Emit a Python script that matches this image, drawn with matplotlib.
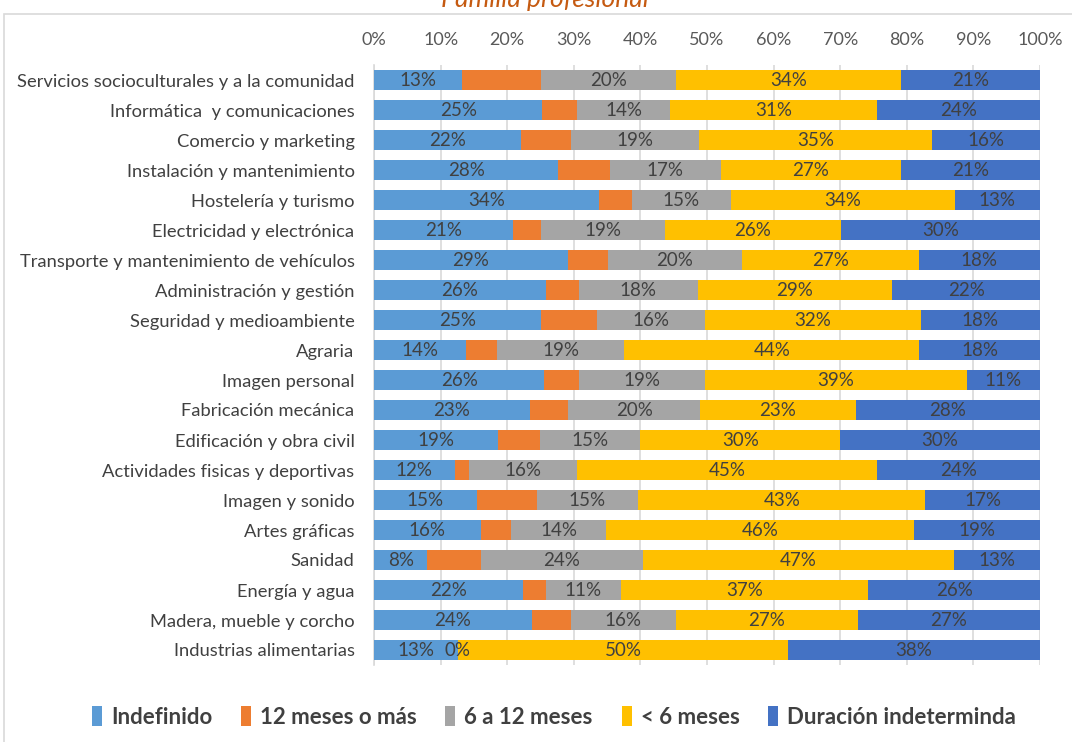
import matplotlib
matplotlib.use("Agg")
import matplotlib.pyplot as plt
from matplotlib.patches import Rectangle, Patch
import numpy as np

plt.rcParams['font.family'] = ['Lato', 'DejaVu Sans']

# Datos (porcentaje por familia profesional)
categorias = [
    "Servicios socioculturales y a la comunidad",
    "Informática  y comunicaciones",
    "Comercio y marketing",
    "Instalación y mantenimiento",
    "Hostelería y turismo",
    "Electricidad y electrónica",
    "Transporte y mantenimiento de vehículos",
    "Administración y gestión",
    "Seguridad y medioambiente",
    "Agraria",
    "Imagen personal",
    "Fabricación mecánica",
    "Edificación y obra civil",
    "Actividades fisicas y deportivas",
    "Imagen y sonido",
    "Artes gráficas",
    "Sanidad",
    "Energía y agua",
    "Madera, mueble y corcho",
    "Industrias alimentarias",
]

series = ["Indefinido", "12 meses o más", "6 a 12 meses", "< 6 meses", "Duración indeterminda"]

indefinido = [13.2, 25.3, 22.0, 27.7, 33.8, 20.9, 29.1, 25.8, 25.0, 13.8,
              25.6, 23.4, 18.6, 12.1, 15.4, 16.0, 8.0, 22.3, 23.7, 12.6]
doce_mas = [11.8, 5.2, 7.6, 7.7, 4.9, 4.1, 6.1, 5.0, 8.5, 4.6,
            5.2, 5.7, 6.3, 2.2, 9.0, 4.6, 8.0, 3.5, 5.9, 0.0]
seis_doce = [20.3, 14.0, 19.2, 16.7, 14.9, 18.7, 20.0, 17.8, 16.2, 19.2,
             18.9, 19.9, 15.1, 16.2, 15.3, 14.3, 24.4, 11.3, 15.7, 0.0]
menos_seis = [33.8, 31.1, 35.0, 27.0, 33.6, 26.4, 26.6, 29.2, 32.4, 44.3,
              39.3, 23.3, 30.0, 45.1, 43.1, 46.2, 46.7, 37.1, 27.3, 49.6]
indeterminada = [20.9, 24.4, 16.2, 20.9, 12.8, 29.9, 18.2, 22.2, 17.9, 18.1,
                 11.0, 27.7, 30.0, 24.4, 17.2, 18.9, 12.9, 25.8, 27.4, 37.8]

colores = ["#5B9BD5", "#ED7D31", "#A5A5A5", "#FFC000", "#4472C4"]
mostrar_etiqueta = [True, False, True, True, True]
texto = "#404040"

W, H = 1072, 742
fig = plt.figure(figsize=(W / 100, H / 100), dpi=100)

# borde del área del gráfico y título (cortado arriba, como en el original)
fig.add_artist(Rectangle((4 / W, -0.01), 1.2, (H - 14) / H + 0.01, transform=fig.transFigure,
                         fill=False, edgecolor="#D9D9D9", linewidth=1.2))
fig.text(545 / W, 1 - 7 / H, "Familia profesional", ha="center", va="baseline",
         fontsize=19, style="italic", color="#C55A11")

ax = fig.add_axes([374 / W, (H - 665) / H, 666 / W, 600 / H])

datos = [indefinido, doce_mas, seis_doce, menos_seis, indeterminada]
y = np.arange(len(categorias))
izq = np.zeros(len(categorias))
for nombre, vals, col, lab in zip(series, datos, colores, mostrar_etiqueta):
    vals = np.array(vals)
    ax.barh(y, vals, left=izq, height=0.65, color=col, label=nombre, zorder=3)
    if lab:
        for yi, l, v in zip(y, izq, vals):
            if v > 0 or nombre == "6 a 12 meses":
                ax.text(l + v / 2, yi, f"{v:.0f}%", ha="center", va="center",
                        fontsize=13.5, color=texto, zorder=4)
    izq += vals

ax.set_xlim(0, 100)
ax.set_ylim(len(categorias) - 0.5, -0.5)
ax.set_xticks(np.arange(0, 101, 10))
ax.set_xticklabels([f"{t}%" for t in range(0, 101, 10)])
ax.xaxis.tick_top()
ax.tick_params(axis="x", length=0, pad=12, labelsize=13, labelcolor="#595959")
ax.set_yticks(y)
ax.set_yticklabels(categorias)
ax.tick_params(axis="y", length=0, pad=14, labelsize=13.2, labelcolor=texto)
ax.grid(axis="x", color="#D9D9D9", linewidth=1.2, zorder=0)
for s in ["top", "right", "bottom"]:
    ax.spines[s].set_visible(False)
ax.spines["left"].set_color("#D9D9D9")
ax.spines["left"].set_linewidth(1.2)

handles = [Patch(facecolor=c, edgecolor="none") for c in colores]
fig.legend(handles, series, loc="center", bbox_to_anchor=(554 / W, 1 - 717 / H), ncol=5,
           frameon=False, handlelength=0.45, handleheight=1.0, handletextpad=0.4,
           columnspacing=1.3, prop={"size": 16, "weight": "bold"}, labelcolor=texto)

fig.savefig("out.png", dpi=100)
